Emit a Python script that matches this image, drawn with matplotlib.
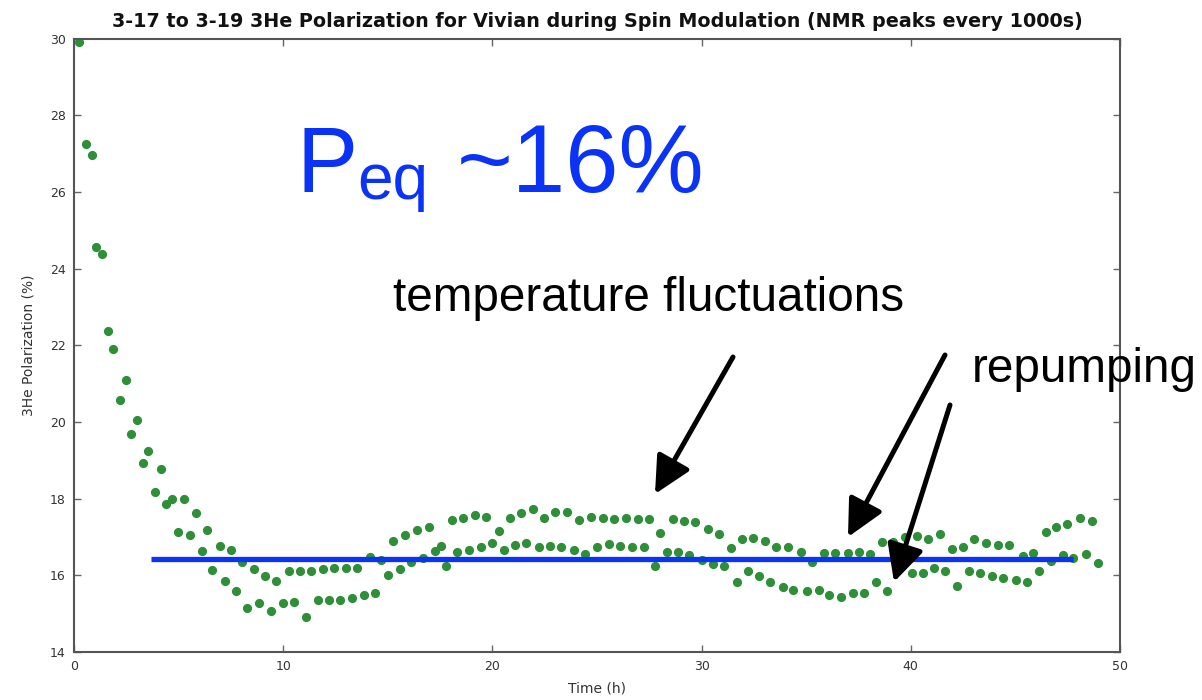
import matplotlib
matplotlib.use("Agg")
import matplotlib.pyplot as plt

# Measured 3He polarization, one NMR reading every ~1000 s
t_hours = [
    0.23, 0.55, 0.84, 1.06, 1.35, 1.62, 1.87, 2.21, 2.48, 2.74,
    3.01, 3.28, 3.56, 3.88, 4.14, 4.41, 4.70, 4.97, 5.27, 5.56,
    5.85, 6.11, 6.37, 6.61, 6.96, 7.22, 7.50, 7.73, 8.03, 8.27,
    8.60, 8.86, 9.15, 9.40, 9.66, 9.98, 10.26, 10.54, 10.80, 11.08,
    11.33, 11.65, 11.90, 12.18, 12.45, 12.72, 12.99, 13.28, 13.53, 13.87,
    14.14, 14.41, 14.68, 15.00, 15.27, 15.57, 15.84, 16.11, 16.39, 16.66,
    16.95, 17.25, 17.52, 17.77, 18.05, 18.32, 18.60, 18.89, 19.16, 19.45,
    19.69, 19.98, 20.31, 20.55, 20.84, 21.09, 21.35, 21.62, 21.92, 22.22,
    22.48, 22.75, 23.00, 23.29, 23.58, 23.88, 24.15, 24.43, 24.70, 25.01,
    25.29, 25.57, 25.83, 26.10, 26.39, 26.69, 26.96, 27.26, 27.50, 27.78,
    28.01, 28.33, 28.62, 28.89, 29.15, 29.42, 29.69, 30.02, 30.29, 30.56,
    30.82, 31.07, 31.40, 31.68, 31.92, 32.21, 32.48, 32.75, 33.02, 33.28,
    33.56, 33.87, 34.11, 34.39, 34.75, 35.03, 35.30, 35.59, 35.83, 36.10,
    36.39, 36.66, 36.98, 37.23, 37.50, 37.77, 38.06, 38.34, 38.62, 38.88,
    39.17, 39.44, 39.73, 40.08, 40.32, 40.56, 40.83, 41.09, 41.38, 41.65,
    41.97, 42.21, 42.50, 42.76, 43.04, 43.29, 43.59, 43.88, 44.17, 44.42,
    44.70, 45.03, 45.34, 45.56, 45.86, 46.11, 46.44, 46.72, 46.96, 47.26,
    47.48, 47.75, 48.11, 48.37, 48.64, 48.94,
]
polarization = [
    29.90, 27.25, 26.95, 24.55, 24.37, 22.36, 21.90, 20.58, 21.10, 19.68,
    20.06, 18.92, 19.24, 18.18, 18.78, 17.85, 17.98, 17.13, 17.98, 17.05,
    17.62, 16.63, 17.17, 16.15, 16.77, 15.85, 16.67, 15.59, 16.35, 15.14,
    16.17, 15.28, 15.97, 15.08, 15.86, 15.28, 16.11, 15.31, 16.11, 14.92,
    16.11, 15.35, 16.17, 15.35, 16.19, 15.35, 16.20, 15.41, 16.20, 15.48,
    16.48, 15.53, 16.40, 16.02, 16.89, 16.17, 17.04, 16.34, 17.18, 16.46,
    17.25, 16.63, 16.77, 16.24, 17.43, 16.60, 17.50, 16.66, 17.56, 16.74,
    17.52, 16.84, 17.15, 16.66, 17.50, 16.78, 17.62, 16.84, 17.74, 16.74,
    17.50, 16.76, 17.64, 16.74, 17.64, 16.66, 17.44, 16.55, 17.53, 16.74,
    17.49, 16.81, 17.46, 16.77, 17.49, 16.74, 17.48, 16.74, 17.48, 16.24,
    17.11, 16.60, 17.46, 16.60, 17.42, 16.53, 17.39, 16.40, 17.22, 16.29,
    17.09, 16.24, 16.71, 15.82, 16.94, 16.12, 16.97, 15.99, 16.90, 15.82,
    16.74, 15.70, 16.74, 15.62, 16.61, 15.58, 16.35, 15.62, 16.57, 15.49,
    16.57, 15.44, 16.57, 15.55, 16.61, 15.55, 16.55, 15.82, 16.87, 15.58,
    16.87, 16.30, 16.99, 16.05, 17.03, 16.05, 16.94, 16.20, 17.08, 16.12,
    16.69, 15.73, 16.74, 16.11, 16.94, 16.07, 16.84, 15.99, 16.78, 15.92,
    16.78, 15.89, 16.50, 15.83, 16.57, 16.12, 17.12, 16.38, 17.27, 16.53,
    17.33, 16.44, 17.50, 16.56, 17.42, 16.31,
]

x_ticks = [0, 10, 20, 30, 40, 50]
y_ticks = [14, 16, 18, 20, 22, 24, 26, 28, 30]

# Equilibrium level marked across the plateau
peq_level = 16.43
peq_start, peq_end = 3.7, 47.75

title = "3-17 to 3-19 3He Polarization for Vivian during Spin Modulation (NMR peaks every 1000s)"

W, H = 1202, 700
fig = plt.figure(figsize=(W / 100, H / 100), dpi=100)
ax = fig.add_axes([74 / W, 1 - 652 / H, (1120 - 74) / W, (652 - 38.5) / H])

ax.plot(t_hours, polarization, linestyle="none", marker="o", markersize=5.6,
        color="#2f8f38", markeredgecolor="#2f8f38")
ax.hlines(peq_level, peq_start, peq_end, color="#0a33f5", linewidth=3.8, zorder=3)

ax.set_xlim(0, 50)
ax.set_ylim(14, 30)
ax.set_xticks(x_ticks)
ax.set_yticks(y_ticks)
ax.tick_params(direction="in", top=True, right=True, length=5, width=1,
               color="#666666", labelcolor="#333333", labelsize=9, pad=6)
for sp in ax.spines.values():
    sp.set_color("#555555")
    sp.set_linewidth(1.5)

ax.set_title(title, fontsize=13.8, fontweight="bold", pad=8, color="#111111")
ax.set_xlabel("Time (h)", fontsize=10, color="#333333", labelpad=6)
ax.set_ylabel("3He Polarization (%)", fontsize=10, color="#333333", labelpad=10)

ann_font = "Liberation Sans"
blue = "#0a33f5"


def fx(px):
    return px / W


def fy(py):
    return 1 - py / H


fig.text(fx(296), fy(192), "P", fontsize=66, color=blue, family=ann_font, va="baseline")
fig.text(fx(357), fy(199), "eq", fontsize=46, color=blue, family=ann_font, va="baseline")
fig.text(fx(457), fy(192), "~16%", fontsize=69, color=blue, family=ann_font, va="baseline")

fig.text(fx(393), fy(311), "temperature fluctuations", fontsize=34.3, color="black",
         family=ann_font, va="baseline")
fig.text(fx(972), fy(382), "repumping", fontsize=34.3, color="black",
         family=ann_font, va="baseline")

arrows = [((733, 357), (655, 494)), ((945, 355), (848, 537)), ((950, 405), (894, 582))]
for (tx, ty), (hx, hy) in arrows:
    ax.annotate("", xy=(hx, H - hy), xytext=(tx, H - ty),
                xycoords="figure pixels", textcoords="figure pixels",
                annotation_clip=False,
                arrowprops=dict(arrowstyle="-|>,head_length=0.9,head_width=0.45",
                                mutation_scale=25, lw=3.6, color="black",
                                shrinkA=0, shrinkB=0))

fig.savefig("out.png", dpi=100)
